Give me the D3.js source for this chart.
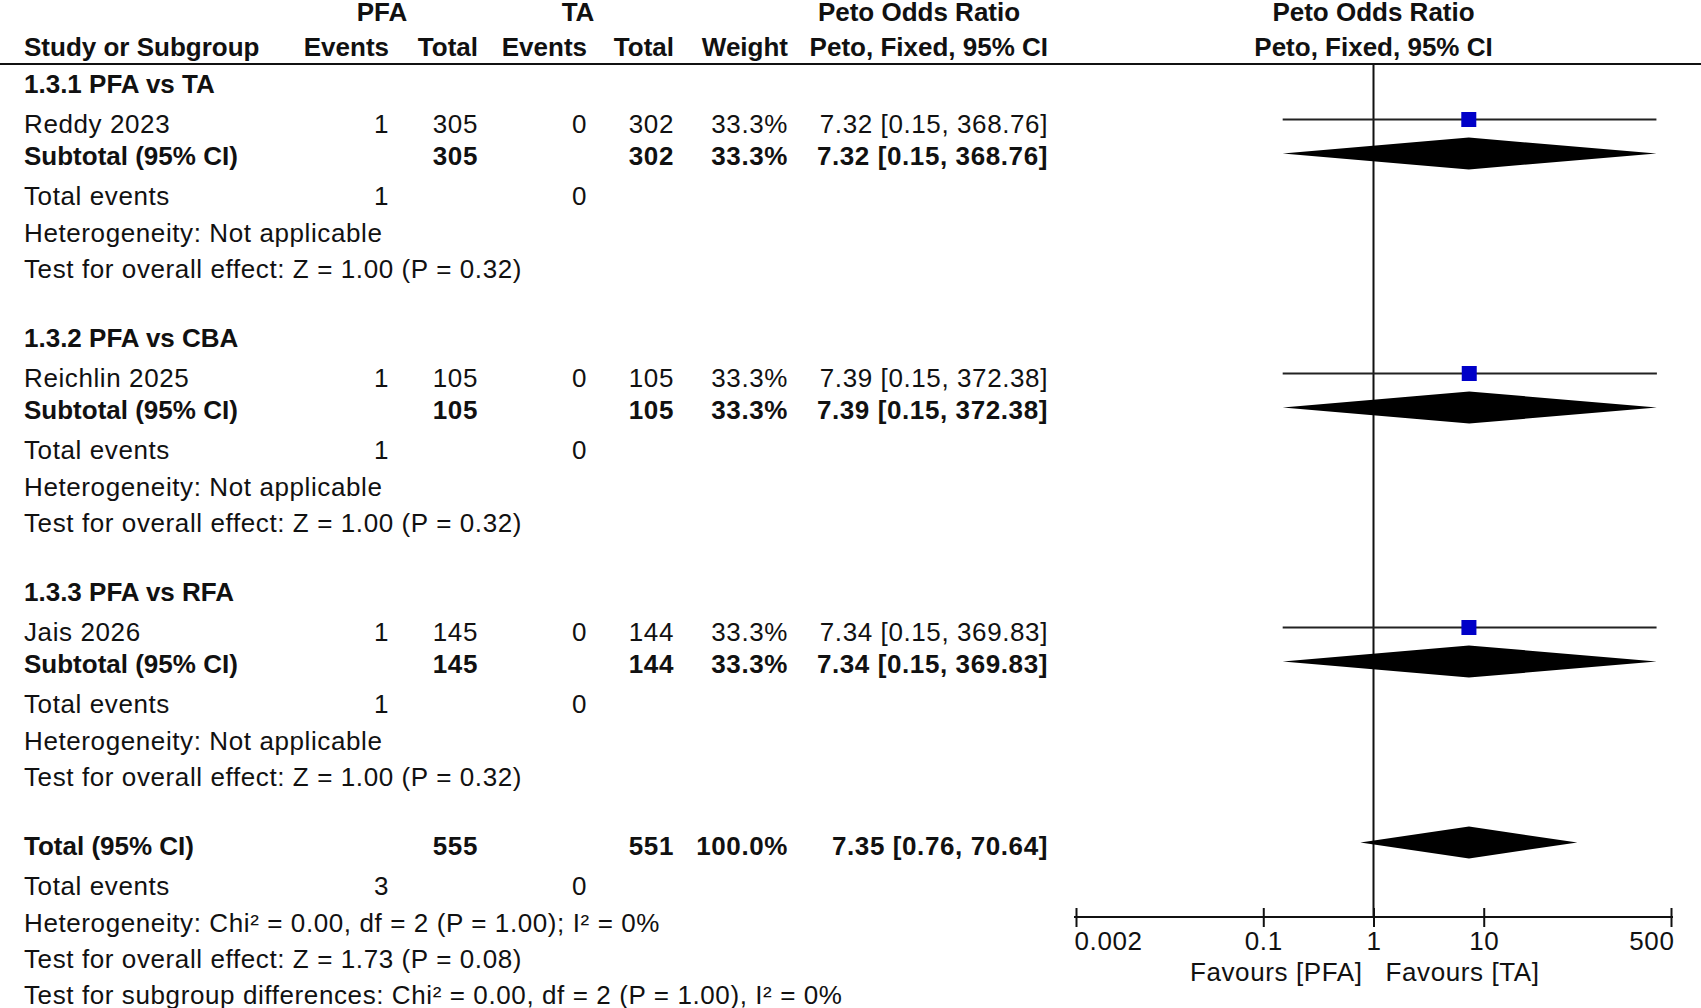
<!DOCTYPE html>
<html lang="en">
<head>
    <meta charset="UTF-8">
    <title>Peto Odds Ratio forest plot</title>
    <style>
        body { margin: 0; padding: 0; background: #fff; }
        svg { display: block; font-family: "Liberation Sans", Arial, sans-serif; }
        text { fill: #111; font-size: 26px; letter-spacing: 0.6px; }
        .bold { font-weight: bold; letter-spacing: 0; }
        .bold.num { letter-spacing: 0.6px; }
        .rule { stroke: #111; stroke-width: 2px; }
        .ci { stroke: #222; stroke-width: 2px; }
        .sq { fill: #0000c8; }
        .dia { fill: #000; }
        .axis path, .axis line { stroke: #111; stroke-width: 2px; }
        .axis text { font-size: 26px; fill: #111; }
    </style>
</head>
<body>
<script src="https://d3js.org/d3.v7.min.js"></script>
<script>
    // data
    const groups = ["1.3.1 PFA vs TA", "1.3.2 PFA vs CBA", "1.3.3 PFA vs RFA"];
    const studies = ["Reddy 2023", "Reichlin 2025", "Jais 2026"];
    const pfaEvents = [1, 1, 1];
    const pfaTotal = [305, 105, 145];
    const taEvents = [0, 0, 0];
    const taTotal = [302, 105, 144];
    const weights = [33.3, 33.3, 33.3];
    const oddsRatio = [7.32, 7.39, 7.34];
    const ciLow = [0.15, 0.15, 0.15];
    const ciHigh = [368.76, 372.38, 369.83];
    const groupZ = ["1.00", "1.00", "1.00"];
    const groupP = ["0.32", "0.32", "0.32"];

    const overall = { pfaTotal: 555, taTotal: 551, weight: 100.0, or: 7.35, lo: 0.76, hi: 70.64,
                      pfaEvents: 3, taEvents: 0 };
    const overallText = [
        "Heterogeneity: Chi\u00b2 = 0.00, df = 2 (P = 1.00); I\u00b2 = 0%",
        "Test for overall effect: Z = 1.73 (P = 0.08)",
        "Test for subgroup differences: Chi\u00b2 = 0.00, df = 2 (P = 1.00), I\u00b2 = 0%"
    ];

    const tickValues = [0.002, 0.1, 1, 10, 500];
    const favours = ["Favours [PFA]", "Favours [TA]"];

    const W = 1701, H = 1008;
    const svg = d3.select("body").append("svg").attr("width", W).attr("height", H);
    svg.append("rect").attr("width", W).attr("height", H).attr("fill", "#fff");

    // column right edges
    const col = { label: 24, pfaE: 389, pfaT: 478, taE: 587, taT: 674, wt: 788, ci: 1048 };
    const x = d3.scaleLog().domain([0.002, 500]).range([1076, 1671]);
    const groupY = d3.scaleLinear().domain([0, 1]).range([83.5, 337.5]);
    const base = 9; // centre -> baseline
    const axisY = 917;

    const fmt2 = d3.format(".2f");
    const ciText = (o, l, h) => fmt2(o) + " [" + fmt2(l) + ", " + fmt2(h) + "]";

    function txt(xp, yc, s, anchor, bold, num) {
        const cls = [bold ? "bold" : "", num ? "num" : ""].join(" ").trim();
        svg.append("text")
            .attr("x", xp).attr("y", yc + base)
            .attr("text-anchor", anchor || "start")
            .attr("class", cls || null)
            .text(s);
    }

    // header
    txt(382, 12, "PFA", "middle", true);
    txt(578, 12, "TA", "middle", true);
    txt(919, 12, "Peto Odds Ratio", "middle", true);
    txt(x(1), 12, "Peto Odds Ratio", "middle", true);
    txt(col.label, 47, "Study or Subgroup", "start", true);
    txt(col.pfaE, 47, "Events", "end", true);
    txt(col.pfaT, 47, "Total", "end", true);
    txt(col.taE, 47, "Events", "end", true);
    txt(col.taT, 47, "Total", "end", true);
    txt(col.wt, 47, "Weight", "end", true);
    txt(col.ci, 47, "Peto, Fixed, 95% CI", "end", true);
    txt(x(1), 47, "Peto, Fixed, 95% CI", "middle", true);
    svg.append("line").attr("class", "rule")
        .attr("x1", 0).attr("x2", W).attr("y1", 64).attr("y2", 64);

    // vertical line of no effect
    svg.append("line").attr("class", "rule")
        .attr("x1", x(1)).attr("x2", x(1)).attr("y1", 64).attr("y2", axisY);

    function diamond(yc, o, l, h, hh) {
        const pts = [[x(l), yc], [x(o), yc - hh], [x(h), yc], [x(o), yc + hh]];
        svg.append("path").attr("class", "dia").attr("d", d3.line()(pts) + "Z");
    }

    groups.forEach((g, i) => {
        const y0 = groupY(i);
        const yStudy = y0 + 40, ySub = y0 + 72, yEv = y0 + 112, yHet = y0 + 149, yTest = y0 + 185;
        txt(col.label, y0, g, "start", true);

        // study row
        txt(col.label, yStudy, studies[i]);
        txt(col.pfaE, yStudy, pfaEvents[i], "end");
        txt(col.pfaT, yStudy, pfaTotal[i], "end");
        txt(col.taE, yStudy, taEvents[i], "end");
        txt(col.taT, yStudy, taTotal[i], "end");
        txt(col.wt, yStudy, weights[i].toFixed(1) + "%", "end");
        txt(col.ci, yStudy, ciText(oddsRatio[i], ciLow[i], ciHigh[i]), "end");

        // subtotal row
        txt(col.label, ySub, "Subtotal (95% CI)", "start", true);
        txt(col.pfaT, ySub, pfaTotal[i], "end", true, true);
        txt(col.taT, ySub, taTotal[i], "end", true, true);
        txt(col.wt, ySub, weights[i].toFixed(1) + "%", "end", true, true);
        txt(col.ci, ySub, ciText(oddsRatio[i], ciLow[i], ciHigh[i]), "end", true, true);

        txt(col.label, yEv, "Total events");
        txt(col.pfaE, yEv, pfaEvents[i], "end");
        txt(col.taE, yEv, taEvents[i], "end");
        txt(col.label, yHet, "Heterogeneity: Not applicable");
        txt(col.label, yTest, "Test for overall effect: Z = " + groupZ[i] + " (P = " + groupP[i] + ")");

        // plot marks
        const yc = yStudy - 4;
        svg.append("line").attr("class", "ci")
            .attr("x1", x(ciLow[i])).attr("x2", x(ciHigh[i]))
            .attr("y1", yc).attr("y2", yc);
        const s = 15;
        svg.append("rect").attr("class", "sq")
            .attr("x", x(oddsRatio[i]) - s / 2).attr("y", yc - s / 2)
            .attr("width", s).attr("height", s);
        diamond(ySub - 2, oddsRatio[i], ciLow[i], ciHigh[i], 16);
    });

    // overall block
    const yT = groupY(3);
    txt(col.label, yT, "Total (95% CI)", "start", true);
    txt(col.pfaT, yT, overall.pfaTotal, "end", true, true);
    txt(col.taT, yT, overall.taTotal, "end", true, true);
    txt(col.wt, yT, overall.weight.toFixed(1) + "%", "end", true, true);
    txt(col.ci, yT, ciText(overall.or, overall.lo, overall.hi), "end", true, true);
    diamond(yT - 3, overall.or, overall.lo, overall.hi, 16);
    txt(col.label, yT + 40, "Total events");
    txt(col.pfaE, yT + 40, overall.pfaEvents, "end");
    txt(col.taE, yT + 40, overall.taEvents, "end");
    overallText.forEach((t, k) => txt(col.label, yT + 77 + k * 36, t));

    // axis
    const axis = svg.append("g").attr("class", "axis")
        .attr("transform", "translate(0," + axisY + ")")
        .call(d3.axisBottom(x).tickValues(tickValues).tickSize(10).tickSizeOuter(0)
            .tickFormat(d => String(d)));
    axis.select(".domain").attr("d", "M" + (x(0.002) - 2) + ",0H" + (x(500) + 2));
    axis.selectAll(".tick line").attr("y1", -9);
    axis.selectAll(".tick text").attr("dy", "0.95em").attr("y", 8)
        .attr("text-anchor", (d, i) => i === 0 ? "start" : i === tickValues.length - 1 ? "end" : "middle")
        .attr("dx", (d, i) => i === 0 ? -2 : i === tickValues.length - 1 ? 3 : 0);

    txt(x(1) - 11, 972, favours[0], "end");
    txt(x(1) + 12, 972, favours[1], "start");
</script>
</body>
</html>
